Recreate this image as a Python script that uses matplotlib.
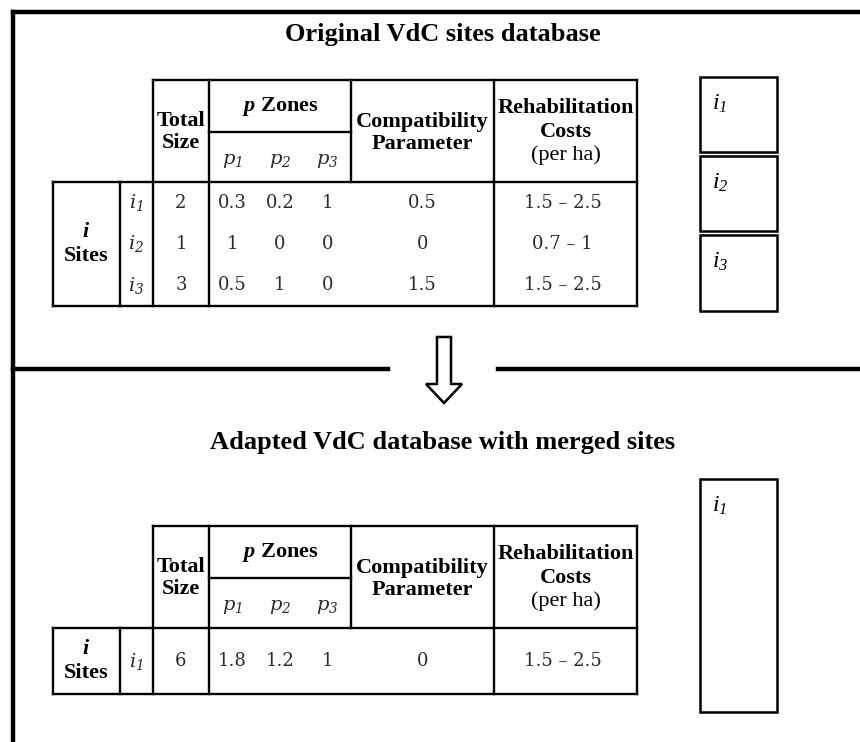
import matplotlib.pyplot as plt
from matplotlib.patches import Rectangle, Polygon

plt.rcParams['mathtext.fontset'] = 'custom'
plt.rcParams['mathtext.rm'] = 'DejaVu Serif:italic'
plt.rcParams['mathtext.it'] = 'DejaVu Serif:italic'
plt.rcParams['mathtext.bfit'] = 'Liberation Serif:italic:bold'
plt.rcParams['mathtext.sf'] = 'Liberation Serif:italic'

# Table contents
titles = ['Original VdC sites database', 'Adapted VdC database with merged sites']
zone_names = ['1', '2', '3']

orig_sites = ['1', '2', '3']
orig_size = [2, 1, 3]
orig_zones = [[0.3, 0.2, 1], [1, 0, 0], [0.5, 1, 0]]
orig_compat = [0.5, 0, 1.5]
orig_costs = ['1.5 – 2.5', '0.7 – 1', '1.5 – 2.5']

merged_sites = ['1']
merged_size = [6]
merged_zones = [[1.8, 1.2, 1]]
merged_compat = [0]
merged_costs = ['1.5 – 2.5']

# layout (pixels)
W, H = 860, 742
cols = [53, 120, 153, 209, 351, 494, 637]
HEAD = 102
SUB = 52

fig = plt.figure(figsize=(W / 100, H / 100), dpi=100)
ax = fig.add_axes([0, 0, 1, 1])
ax.set_xlim(0, W)
ax.set_ylim(H, 0)
ax.axis('off')

serif = 'Liberation Serif'
body = dict(family='DejaVu Serif', fontsize=13, color='#2a2a2a', ha='center', va='center')
bold = dict(family=serif, fontsize=16, fontweight='bold', ha='center', va='center')
lw = 1.7


def line(x0, y0, x1, y1, w=lw):
    ax.plot([x0, x1], [y0, y1], color='black', lw=w, solid_capstyle='projecting')


def fmt(v):
    return f'{v:g}'


def draw_table(top, row_h, sites, size, zones, compat, costs):
    n = len(sites)
    hb = top + HEAD
    bottom = hb + n * row_h
    # horizontal rules
    line(cols[2], top, cols[6], top)
    line(cols[3], top + SUB, cols[4], top + SUB)
    line(cols[0], hb, cols[6], hb)
    line(cols[0], bottom, cols[6], bottom)
    # vertical rules (no rule between zones and compatibility in the body)
    for i, x in enumerate(cols):
        if i == 4:
            line(x, top, x, hb)
        else:
            line(x, top if i >= 2 else hb, x, bottom)

    cx = [(cols[k] + cols[k + 1]) / 2 for k in range(6)]
    zw = (cols[4] - cols[3]) / 3
    zx = [cols[3] + zw * (k + 0.5) for k in range(3)]

    ax.text(cx[2], top + 41, 'Total', **bold)
    ax.text(cx[2], top + 63, 'Size', **bold)
    ax.text(cx[3], top + 27, r'$\mathbfit{p}$ Zones', **bold)
    for k, z in enumerate(zone_names):
        ax.text(zx[k], top + 81, r'$p_{%s}$' % z, family='DejaVu Serif',
                fontsize=14, color='#2a2a2a', ha='center', va='center')
    ax.text(cx[4], top + 42, 'Compatibility', **bold)
    ax.text(cx[4], top + 64, 'Parameter', **bold)
    ax.text(cx[5], top + 28, 'Rehabilitation', **bold)
    ax.text(cx[5], top + 52, 'Costs', **bold)
    ax.text(cx[5], top + 75, '(per ha)', family=serif, fontsize=16, ha='center', va='center')

    mid = (hb + bottom) / 2
    ax.text(cx[0], mid - 12, r'$\mathbfit{i}$', **bold)
    ax.text(cx[0], mid + 12, 'Sites', **bold)

    for r in range(n):
        y = hb + row_h * (r + 0.5)
        ax.text(cx[1], y, r'$i_{%s}$' % sites[r], family='DejaVu Serif',
                fontsize=14, color='#2a2a2a', ha='center', va='center')
        ax.text(cx[2], y, fmt(size[r]), **body)
        for k in range(3):
            ax.text(zx[k], y, fmt(zones[r][k]), **body)
        ax.text(cx[4], y, fmt(compat[r]), **body)
        ax.text(cx[5] - 3, y, costs[r], **body)


def site_box(y0, y1, label):
    ax.add_patch(Rectangle((700, y0), 77, y1 - y0, fill=False, ec='black', lw=1.8))
    ax.text(712, y0 + 26, r'$\mathsf{i}_{\mathsf{%s}}$' % label, fontsize=17,
            ha='left', va='center')


# outer frame
line(13, 11.5, W + 5, 11.5, w=3.2)
line(13, 11.5, 13, H + 5, w=3.2)
line(13, 369, 388, 369, w=3.2)
line(498, 369, W + 5, 369, w=3.2)

# section 1
ax.text(443, 35, titles[0], family=serif, fontsize=19, fontweight='bold', ha='center', va='center')
draw_table(80, 41.3, orig_sites, orig_size, orig_zones, orig_compat, orig_costs)
box_edges = [(77, 152), (156, 231), (235, 311)]
for (y0, y1), s in zip(box_edges, orig_sites):
    site_box(y0, y1, s)

# arrow
arrow = [(437, 337), (451, 337), (451, 384), (462, 384), (444, 403), (426, 384), (437, 384)]
ax.add_patch(Polygon(arrow, closed=True, fc='white', ec='black', lw=1.8, joinstyle='miter'))

# section 2
ax.text(443, 443, titles[1], family=serif, fontsize=19, fontweight='bold', ha='center', va='center')
draw_table(526, 66, merged_sites, merged_size, merged_zones, merged_compat, merged_costs)
site_box(479, 712, merged_sites[0])

fig.savefig('out.png', dpi=100, facecolor='white')
